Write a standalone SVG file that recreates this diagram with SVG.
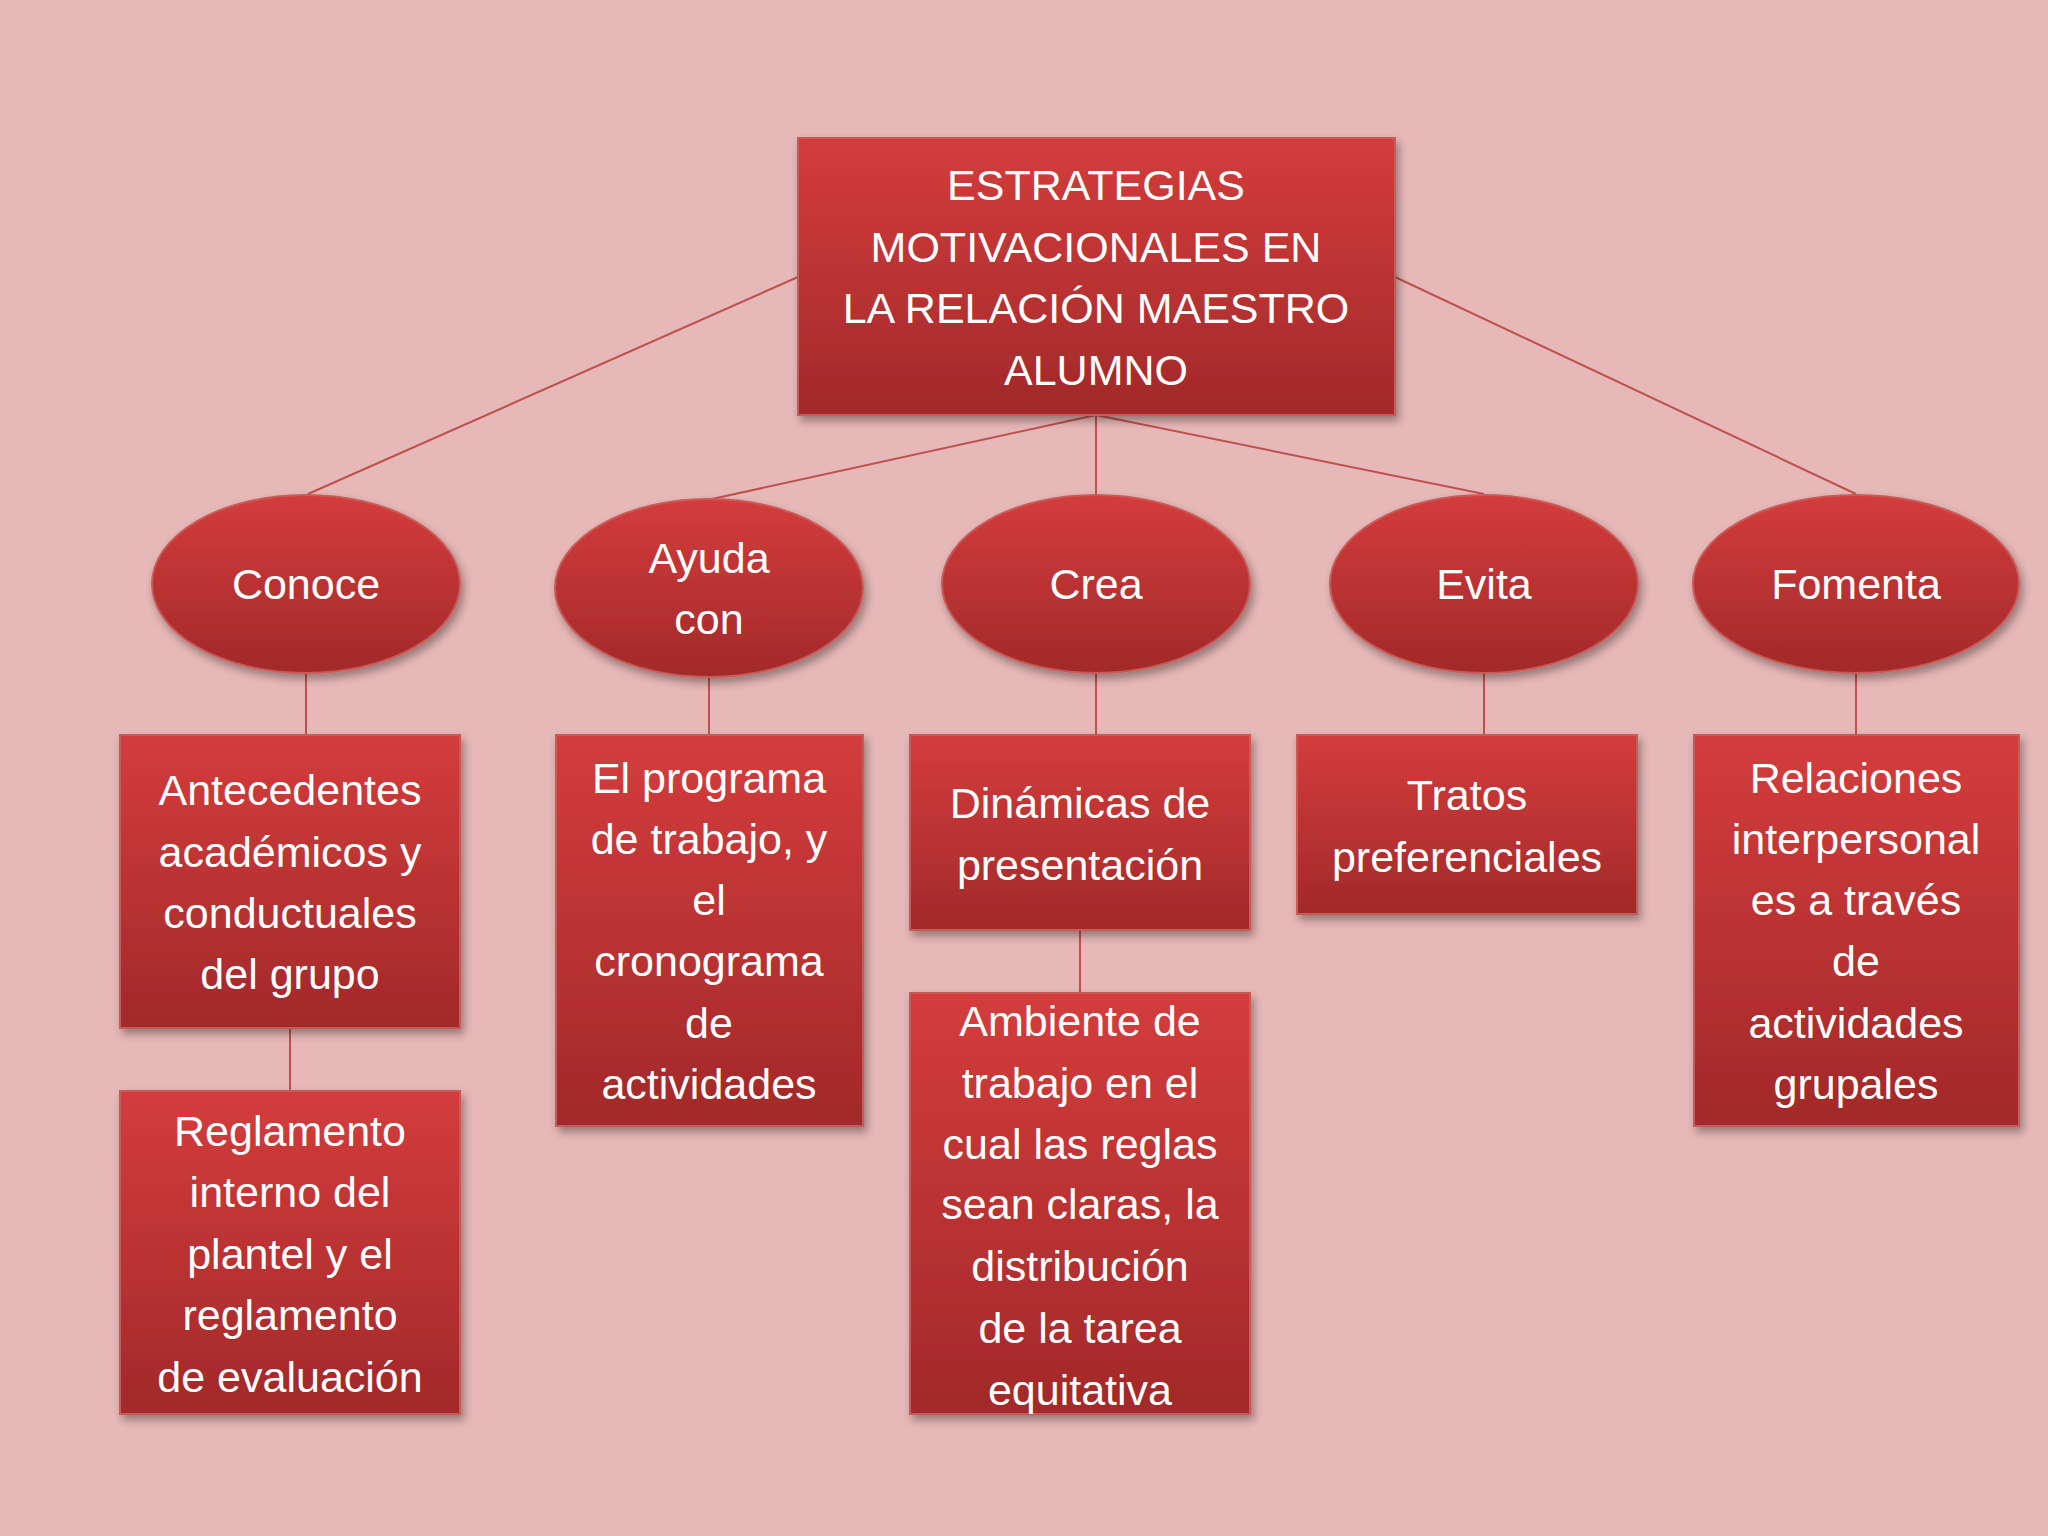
<svg xmlns="http://www.w3.org/2000/svg" width="2048" height="1536" viewBox="0 0 2048 1536">
<defs>
<linearGradient id="g" x1="0" y1="0" x2="0" y2="1"><stop offset="0" stop-color="#D43C3C"/><stop offset="1" stop-color="#A2292A"/></linearGradient>
<filter id="sh" x="-10%" y="-10%" width="125%" height="125%"><feDropShadow dx="3" dy="5" stdDeviation="4" flood-color="#000" flood-opacity="0.35"/></filter>
<style>
.n{fill:url(#g);stroke:#C85A58;stroke-width:2;filter:url(#sh)}
.t{font-family:"Liberation Sans",Arial,sans-serif;font-size:43px;fill:#fff;text-anchor:middle}
.c{stroke:#C0504D;stroke-width:2;fill:none}
</style>
</defs>
<rect width="2048" height="1536" fill="#E6B8B7"/>
<g id="connectors">
<line class="c" x1="798" y1="277" x2="308" y2="494"/>
<line class="c" x1="1395" y1="277" x2="1856" y2="494"/>
<line class="c" x1="1096" y1="415" x2="712" y2="499"/>
<line class="c" x1="1096" y1="415" x2="1096" y2="494"/>
<line class="c" x1="1096" y1="415" x2="1484" y2="494"/>
<line class="c" x1="306" y1="673" x2="306" y2="735"/>
<line class="c" x1="290" y1="1028" x2="290" y2="1091"/>
<line class="c" x1="709" y1="677" x2="709" y2="735"/>
<line class="c" x1="1096" y1="673" x2="1096" y2="735"/>
<line class="c" x1="1080" y1="930" x2="1080" y2="993"/>
<line class="c" x1="1484" y1="673" x2="1484" y2="735"/>
<line class="c" x1="1856" y1="673" x2="1856" y2="735"/>
</g>
<g id="root"><rect class="n" x="798" y="138" width="597" height="277"/>
<text class="t" x="1096" y="200">ESTRATEGIAS</text><text class="t" x="1096" y="262">MOTIVACIONALES EN</text><text class="t" x="1096" y="323">LA RELACIÓN MAESTRO</text><text class="t" x="1096" y="385">ALUMNO</text></g>
<g id="conoce"><ellipse class="n" cx="306" cy="584" rx="154" ry="89"/><text class="t" x="306" y="599">Conoce</text></g>
<g id="ayuda"><ellipse class="n" cx="709" cy="588" rx="154" ry="89"/><text class="t" x="709" y="573">Ayuda</text><text class="t" x="709" y="634">con</text></g>
<g id="crea"><ellipse class="n" cx="1096" cy="584" rx="154" ry="89"/><text class="t" x="1096" y="599">Crea</text></g>
<g id="evita"><ellipse class="n" cx="1484" cy="584" rx="154" ry="89"/><text class="t" x="1484" y="599">Evita</text></g>
<g id="fomenta"><ellipse class="n" cx="1856" cy="584" rx="163" ry="89"/><text class="t" x="1856" y="599">Fomenta</text></g>
<g id="antecedentes"><rect class="n" x="120" y="735" width="340" height="293"/>
<text class="t" x="290" y="805">Antecedentes</text><text class="t" x="290" y="867">académicos y</text><text class="t" x="290" y="928">conductuales</text><text class="t" x="290" y="989">del grupo</text></g>
<g id="reglamento"><rect class="n" x="120" y="1091" width="340" height="323"/>
<text class="t" x="290" y="1146">Reglamento</text><text class="t" x="290" y="1207">interno del</text><text class="t" x="290" y="1269">plantel y el</text><text class="t" x="290" y="1330">reglamento</text><text class="t" x="290" y="1392">de evaluación</text></g>
<g id="programa"><rect class="n" x="556" y="735" width="307" height="391"/>
<text class="t" x="709" y="793">El programa</text><text class="t" x="709" y="854">de trabajo, y</text><text class="t" x="709" y="915">el</text><text class="t" x="709" y="976">cronograma</text><text class="t" x="709" y="1038">de</text><text class="t" x="709" y="1099">actividades</text></g>
<g id="dinamicas"><rect class="n" x="910" y="735" width="340" height="195"/>
<text class="t" x="1080" y="818">Dinámicas de</text><text class="t" x="1080" y="880">presentación</text></g>
<g id="ambiente"><rect class="n" x="910" y="993" width="340" height="421"/>
<text class="t" x="1080" y="1036">Ambiente de</text><text class="t" x="1080" y="1098">trabajo en el</text><text class="t" x="1080" y="1159">cual las reglas</text><text class="t" x="1080" y="1219">sean claras, la</text><text class="t" x="1080" y="1281">distribución</text><text class="t" x="1080" y="1343">de la tarea</text><text class="t" x="1080" y="1405">equitativa</text></g>
<g id="tratos"><rect class="n" x="1297" y="735" width="340" height="179"/>
<text class="t" x="1467" y="810">Tratos</text><text class="t" x="1467" y="872">preferenciales</text></g>
<g id="relaciones"><rect class="n" x="1694" y="735" width="325" height="391"/>
<text class="t" x="1856" y="793">Relaciones</text><text class="t" x="1856" y="854">interpersonal</text><text class="t" x="1856" y="915">es a través</text><text class="t" x="1856" y="976">de</text><text class="t" x="1856" y="1038">actividades</text><text class="t" x="1856" y="1099">grupales</text></g>
</svg>
